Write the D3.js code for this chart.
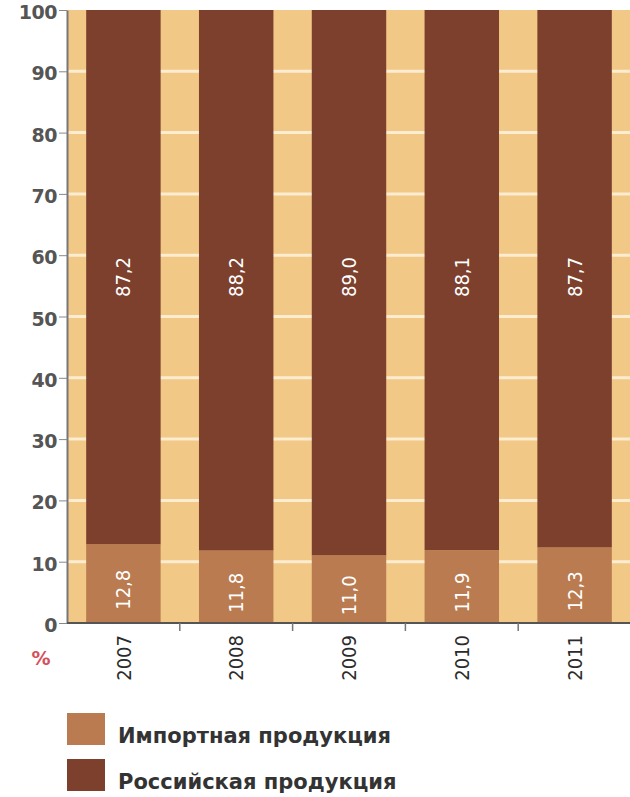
<!DOCTYPE html>
<html lang="ru">
<head>
<meta charset="UTF-8">
<title>Доля продукции</title>
<style>
  body { margin: 0; background: #fff; }
  svg { display: block; }
</style>
</head>
<body>
<svg id="chart" width="630" height="797"></svg>
<script src="https://d3js.org/d3.v7.min.js"></script>
<script>

// years on the x axis
let years = ["2007", "2008", "2009", "2010", "2011"];
// share of imported and Russian products, %
let imported = [12.8, 11.8, 11.0, 11.9, 12.3];
let russian = [87.2, 88.2, 89.0, 88.1, 87.7];
let yTicks = [0, 10, 20, 30, 40, 50, 60, 70, 80, 90, 100];
let legendLabels = ["Импортная продукция", "Российская продукция"];

let colors = {imp: "#b97b4f", rus: "#7c402d", bg: "#f2c886", grid: "#fcecd0"};

let margin = {top: 10, right: 0, bottom: 174, left: 67},
    width = 631 - margin.left - margin.right,
    height = 797 - margin.top - margin.bottom;

let svg = d3.select("#chart");
let chart = svg.append("g")
    .attr("transform", "translate(" + margin.left + "," + margin.top + ")");

let xScale = d3.scaleBand()
    .domain(years)
    .range([0, width])
    .paddingInner(0.34)
    .paddingOuter(0.17);

let yScale = d3.scaleLinear()
    .domain([0, 100])
    .range([height, 0]);

// background and grid
chart.append("rect")
    .attr("width", width)
    .attr("height", height)
    .attr("fill", colors.bg);

chart.selectAll("line.grid")
    .data(yTicks.slice(1, -1))
    .enter()
    .append("line")
    .attr("class", "grid")
    .attr("x1", 0)
    .attr("x2", width)
    .attr("y1", d => yScale(d))
    .attr("y2", d => yScale(d))
    .attr("stroke", colors.grid)
    .attr("stroke-width", 3);

let rows = years.map((y, i) => ({year: y, imp: imported[i], rus: russian[i]}));

// russian part on top of the imported part
chart.selectAll("rect.rus")
    .data(rows)
    .enter()
    .append("rect")
    .attr("x", d => xScale(d.year))
    .attr("width", xScale.bandwidth())
    .attr("y", d => yScale(d.imp + d.rus))
    .attr("height", d => yScale(d.imp) - yScale(d.imp + d.rus))
    .attr("fill", colors.rus);

chart.selectAll("rect.imp")
    .data(rows)
    .enter()
    .append("rect")
    .attr("x", d => xScale(d.year))
    .attr("width", xScale.bandwidth())
    .attr("y", d => yScale(d.imp))
    .attr("height", d => height - yScale(d.imp))
    .attr("fill", colors.imp);

let fmt = v => v.toFixed(1).replace(".", ",");

function valueLabel(x, y, txt) {
    chart.append("text")
        .attr("transform", "translate(" + x + "," + y + ") rotate(-90)")
        .attr("text-anchor", "middle")
        .attr("dy", "0.35em")
        .attr("fill", "#fff")
        .style("font-family", "'Liberation Sans Narrow', 'DejaVu Sans Condensed', sans-serif")
        .style("font-size", "20px")
        .text(txt);
}

rows.forEach(d => {
    let cx = xScale(d.year) + xScale.bandwidth() / 2;
    valueLabel(cx, yScale(d.imp / 2) + 6, fmt(d.imp));
    valueLabel(cx, 277 - margin.top, fmt(d.rus));
});

// y axis
let yAxis = chart.append("g")
    .call(d3.axisLeft(yScale).tickValues(yTicks).tickSize(8).tickSizeOuter(0));
yAxis.select(".domain").attr("stroke", "#777").attr("stroke-width", 2);
yAxis.selectAll(".tick line").attr("stroke", "#888").attr("stroke-width", 1);
yAxis.selectAll(".tick text")
    .attr("x", -10)
    .attr("dy", "0.45em")
    .attr("fill", "#555")
    .style("font-family", "'DejaVu Sans', sans-serif")
    .style("font-weight", "bold")
    .style("font-size", "19px")
    .style("letter-spacing", "-0.5px");

// x axis: ticks at band boundaries
chart.append("line")
    .attr("x1", 0).attr("x2", width)
    .attr("y1", height).attr("y2", height)
    .attr("stroke", "#555").attr("stroke-width", 2);

let step = xScale.step();
chart.selectAll("line.xtick")
    .data(years)
    .enter()
    .append("line")
    .attr("x1", (d, i) => (i + 1) * step)
    .attr("x2", (d, i) => (i + 1) * step)
    .attr("y1", height)
    .attr("y2", height + 8)
    .attr("stroke", "#777")
    .attr("stroke-width", 1.5);

chart.selectAll("text.year")
    .data(years)
    .enter()
    .append("text")
    .attr("transform", d => "translate(" + (xScale(d) + xScale.bandwidth() / 2) + "," + (height + 12) + ") rotate(-90)")
    .attr("text-anchor", "end")
    .attr("dy", "0.36em")
    .attr("fill", "#2b2b2b")
    .style("font-family", "'Liberation Sans Narrow', 'DejaVu Sans Condensed', sans-serif")
    .style("font-size", "20px")
    .text(d => d);

svg.append("text")
    .attr("x", 41)
    .attr("y", 665)
    .attr("text-anchor", "middle")
    .attr("fill", "#d5505a")
    .style("font-family", "'DejaVu Sans', sans-serif")
    .style("font-weight", "bold")
    .style("font-size", "19px")
    .text("%");

// legend
let legend = svg.selectAll("g.legend")
    .data(legendLabels)
    .enter()
    .append("g")
    .attr("transform", (d, i) => "translate(67," + (713 + i * 46) + ")");

legend.append("rect")
    .attr("width", 38)
    .attr("height", 32)
    .attr("fill", (d, i) => i === 0 ? colors.imp : colors.rus);

legend.append("text")
    .attr("x", 51)
    .attr("y", 30)
    .attr("fill", "#333")
    .style("font-family", "'DejaVu Sans', sans-serif")
    .style("font-weight", "bold")
    .style("font-size", "21px")
    .text(d => d);

</script>
</body>
</html>
